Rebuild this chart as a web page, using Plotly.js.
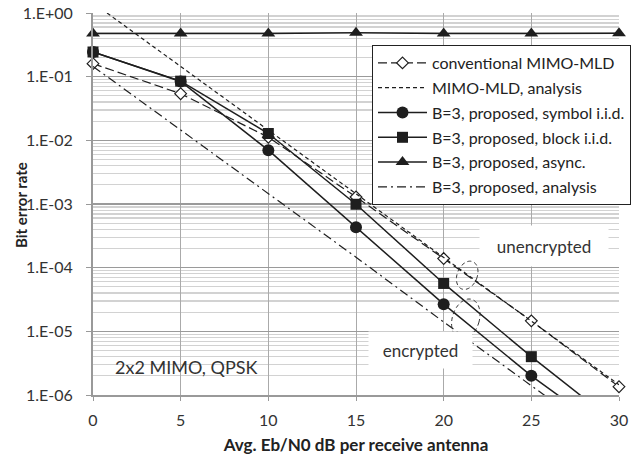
<!DOCTYPE html>
<html>
<head>
<meta charset="utf-8">
<script src="https://cdn.plot.ly/plotly-3.0.1.min.js"></script>
<style>html,body{margin:0;padding:0;background:#fff;}#chart{width:640px;height:455px;}</style>
</head>
<body>
<div id="chart"></div>
<script>
// ---- data ----
const snr = [0, 5, 10, 15, 20, 25, 30];
const berConventional = [0.16, 0.054, 0.0112, 1.29e-3, 1.39e-4, 1.46e-5, 1.35e-6];
const snrMldAnalysis = [0.8, 5, 10, 15, 20, 25, 30];
const berMldAnalysis = [1.0, 0.145, 0.0145, 1.44e-3, 1.45e-4, 1.45e-5, 1.45e-6];
const berSymbolIid = [0.244, 0.084, 0.0070, 4.3e-4, 2.67e-5, 2.0e-6, 2.0e-7];
const berBlockIid = [0.244, 0.085, 0.0128, 9.9e-4, 5.65e-5, 4.0e-6, 3.3e-7];
const berAsync = [0.475, 0.475, 0.475, 0.49, 0.475, 0.475, 0.48];
const berB3Analysis = [0.145, 0.0146, 1.45e-3, 1.46e-4, 1.4e-5, 1.42e-6, 1.4e-7];

const seriesNames = [
  'conventional MIMO-MLD',
  'MIMO-MLD, analysis',
  'B=3, proposed, symbol i.i.d.',
  'B=3, proposed, block i.i.d.',
  'B=3, proposed, async.',
  'B=3, proposed, analysis'
];
const yTickVals = [1, 0.1, 0.01, 1e-3, 1e-4, 1e-5, 1e-6];
const yTickText = ['1.E+00', '1.E-01', '1.E-02', '1.E-03', '1.E-04', '1.E-05', '1.E-06'];
const xTickVals = [0, 5, 10, 15, 20, 25, 30];

// ---- styling ----
const FONT = 'Lato, "Liberation Sans", sans-serif';
const INK = '#1e1e1e';
const TXT = '#333333';

const traces = [
  {x: snr, y: berConventional, name: seriesNames[0], mode: 'lines+markers',
   line: {color: INK, width: 1.2, dash: '9px,4px'},
   marker: {symbol: 'diamond', size: 9, color: '#ffffff', line: {color: INK, width: 1.2}}},
  {x: snrMldAnalysis, y: berMldAnalysis, name: seriesNames[1], mode: 'lines',
   line: {color: INK, width: 1.2, dash: '4px,3px'}},
  {x: snr, y: berSymbolIid, name: seriesNames[2], mode: 'lines+markers',
   line: {color: INK, width: 1.5},
   marker: {symbol: 'circle', size: 12, color: INK}},
  {x: snr, y: berBlockIid, name: seriesNames[3], mode: 'lines+markers',
   line: {color: INK, width: 1.5},
   marker: {symbol: 'square', size: 11, color: INK}},
  {x: snr, y: berAsync, name: seriesNames[4], mode: 'lines+markers',
   line: {color: INK, width: 1.5},
   marker: {symbol: 'triangle-up', size: 12, color: INK}},
  {x: snr, y: berB3Analysis, name: seriesNames[5], mode: 'lines',
   line: {color: INK, width: 1.2, dash: '9px,4px,2px,4px'}}
];
traces.forEach((t, i) => { t.type = 'scatter'; t.cliponaxis = false; t.legendgroup = 'g' + i; });

// pixel -> paper helpers for decorations
const L = 93, R = 619, T = 13, B = 395;
const px = v => (v - L) / (R - L);
const py = v => (B - v) / (B - T);
function ellipsePath(cx, cy, a, b, deg) {
  const th = deg * Math.PI / 180;
  let d = '';
  for (let k = 0; k <= 60; k++) {
    const t = 2 * Math.PI * k / 60;
    const ex = b * Math.cos(t), ey = -a * Math.sin(t);
    const rx = ex * Math.cos(th) - ey * Math.sin(th);
    const ry = ex * Math.sin(th) + ey * Math.cos(th);
    d += (k === 0 ? 'M' : 'L') + px(cx + rx).toFixed(5) + ',' + py(cy + ry).toFixed(5);
  }
  return d + 'Z';
}

const layout = {
  width: 640, height: 455,
  margin: {l: L, r: 640 - R, t: T, b: 455 - B, autoexpand: false},
  paper_bgcolor: '#ffffff', plot_bgcolor: '#ffffff',
  font: {family: FONT, size: 15, color: TXT},
  showlegend: true,
  legend: {x: px(372), y: py(45), xanchor: 'left', yanchor: 'top',
    bgcolor: '#ffffff', bordercolor: '#222222', borderwidth: 1,
    font: {family: FONT, size: 16, color: '#222222'},
    traceorder: 'grouped', tracegroupgap: 1, itemwidth: 49, entrywidth: 257},
  xaxis: {range: [0, 30], tickvals: xTickVals, ticks: 'outside', ticklen: 4,
    tickcolor: '#999999', showline: true, linecolor: '#999999', linewidth: 2,
    showgrid: true, gridcolor: '#aaaaaa', gridwidth: 1, zeroline: false,
    ticklabelstandoff: 6, tickfont: {size: 16, color: TXT},
    title: {text: '<b>Avg. Eb/N0 dB per receive antenna</b>', font: {size: 17, color: '#222222'}, standoff: 11}},
  yaxis: {type: 'log', range: [-6, 0], tickvals: yTickVals, ticktext: yTickText,
    ticks: 'outside', ticklen: 5, tickcolor: '#999999', showline: true,
    linecolor: '#999999', linewidth: 2, showgrid: true, gridcolor: '#9a9a9a', gridwidth: 1.3,
    zeroline: false, ticklabelstandoff: 10, tickfont: {size: 16, color: TXT},
    minor: {dtick: 'D1', showgrid: true, gridcolor: '#d2d2d2', gridwidth: 1.3, ticks: ''}},
  annotations: [
    {xref: 'paper', yref: 'paper', x: px(21), y: py(205), xanchor: 'center', yanchor: 'middle',
     text: '<b>Bit error rate</b>', textangle: -90, showarrow: false,
     font: {size: 15, color: '#222222'}},
    {xref: 'paper', yref: 'paper', x: px(113), y: py(367), xanchor: 'left', yanchor: 'middle',
     text: '2x2 MIMO, QPSK', showarrow: false, font: {size: 18, color: '#333333'}},
    {xref: 'paper', yref: 'paper', x: px(544), y: py(246), xanchor: 'center', yanchor: 'middle',
     text: 'unencrypted', showarrow: false, bgcolor: '#ffffff', width: 126, height: 38,
     font: {size: 17, color: '#333333'}},
    {xref: 'paper', yref: 'paper', x: px(420.5), y: py(350), xanchor: 'center', yanchor: 'middle',
     text: 'encrypted', showarrow: false, bgcolor: '#ffffff', width: 101, height: 34,
     font: {size: 17, color: '#333333'}}
  ],
  shapes: [
    {type: 'path', xref: 'paper', yref: 'paper', path: ellipsePath(467.2, 275.3, 14.7, 10, 22),
     line: {color: '#333333', width: 1, dash: '4px,3px'}},
    {type: 'path', xref: 'paper', yref: 'paper', path: ellipsePath(465.8, 319, 20.5, 13.5, 17),
     line: {color: '#333333', width: 1, dash: '4px,3px'}}
  ]
};

Plotly.newPlot('chart', traces, layout, {staticPlot: true, displayModeBar: false});
</script>
</body>
</html>
